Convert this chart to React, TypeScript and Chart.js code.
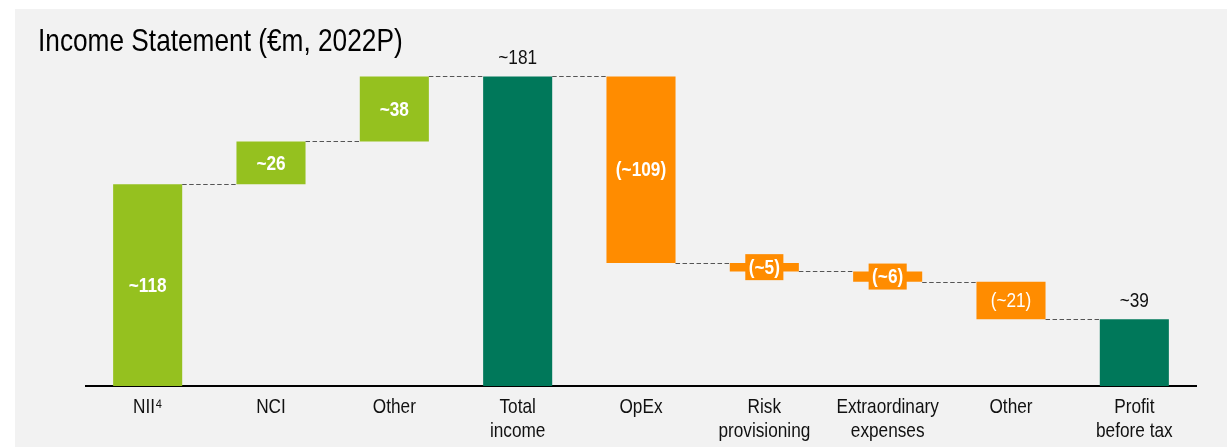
import React, { useEffect, useRef } from "react";
import { Chart, registerables } from "chart.js";

Chart.register(...registerables);

const titleText = "Income Statement (€m, 2022P)";

const categories: (string | string[])[] = [
  "NII⁴",
  "NCI",
  "Other",
  ["Total", "income"],
  "OpEx",
  ["Risk", "provisioning"],
  ["Extraordinary", "expenses"],
  "Other",
  ["Profit", "before tax"],
];

// Floating bar extents (€m)
const barStart = [0, 118, 143, 0, 181, 72, 67, 61, 0];
const barEnd = [118, 143, 181, 181, 72, 67, 61, 39, 39];

const valueLabels = ["~118", "~26", "~38", "~181", "(~109)", "(~5)", "(~6)", "(~21)", "~39"];

const barKind = ["income", "income", "income", "total", "expense", "expense", "expense", "expense", "total"];

// styling helpers (not data)
const kindColor: Record<string, string> = {
  income: "#95C11F",
  total: "#00785A",
  expense: "#FF8C00",
};
const boldLabel = [true, true, true, false, true, true, true, false, false];

const FONT = "'Liberation Sans', Arial, sans-serif";
const NARROW = 0.82; // horizontal compression to mimic a narrow face

function narrowText(
  ctx: CanvasRenderingContext2D,
  text: string,
  x: number,
  y: number,
  align: CanvasTextAlign,
  baseline: CanvasTextBaseline
) {
  ctx.save();
  ctx.translate(x, y);
  ctx.scale(NARROW, 1);
  ctx.textAlign = align;
  ctx.textBaseline = baseline;
  ctx.fillText(text, 0, 0);
  ctx.restore();
}

const waterfallPlugin = {
  id: "waterfallDecor",
  afterDatasetsDraw(chart: any) {
    const ctx: CanvasRenderingContext2D = chart.ctx;
    const meta = chart.getDatasetMeta(0);
    const yScale = chart.scales.y;
    const xScale = chart.scales.x;
    ctx.save();
    // dashed connectors
    ctx.strokeStyle = "#555555";
    ctx.lineWidth = 1;
    ctx.setLineDash([4.5, 2.5]);
    for (let i = 0; i < meta.data.length - 1; i++) {
      const a = meta.data[i];
      const b = meta.data[i + 1];
      const yy = Math.round(yScale.getPixelForValue(barEnd[i])) + 0.5;
      ctx.beginPath();
      ctx.moveTo(a.x + a.width / 2, yy);
      ctx.lineTo(b.x - b.width / 2, yy);
      ctx.stroke();
    }
    ctx.setLineDash([]);
    // value labels
    for (let i = 0; i < meta.data.length; i++) {
      const el = meta.data[i];
      const top = Math.min(el.y, el.base);
      const bottom = Math.max(el.y, el.base);
      ctx.font = `${boldLabel[i] ? "bold " : ""}21px ${FONT}`;
      const text = valueLabels[i];
      if (barKind[i] === "total") {
        ctx.fillStyle = "#111111";
        narrowText(ctx, text, el.x, top - 18, "center", "middle");
      } else {
        const cy = (top + bottom) / 2;
        if (bottom - top < 26) {
          const w = ctx.measureText(text).width * NARROW + 7;
          ctx.fillStyle = kindColor[barKind[i]];
          ctx.fillRect(el.x - w / 2, cy - 13, w, 26);
        }
        ctx.fillStyle = "#ffffff";
        narrowText(ctx, text, el.x, cy + 1, "center", "middle");
      }
    }
    // category labels under the axis, at the scale's tick positions
    ctx.font = `21px ${FONT}`;
    ctx.fillStyle = "#111111";
    const labels = chart.data.labels as (string | string[])[];
    labels.forEach((lab, i) => {
      const lines = Array.isArray(lab) ? lab : [lab];
      const x = xScale.getPixelForTick(i);
      lines.forEach((ln, j) => {
        narrowText(ctx, ln, x, xScale.top + 21 + j * 24, "center", "middle");
      });
    });
    // title
    ctx.fillStyle = "#000000";
    ctx.font = `32px ${FONT}`;
    narrowText(ctx, titleText, 38, 51, "left", "alphabetic");
    ctx.restore();
  },
};

export default function App() {
  const canvasRef = useRef<HTMLCanvasElement | null>(null);

  useEffect(() => {
    if (!canvasRef.current) return;
    const chart = new Chart(canvasRef.current, {
      type: "bar",
      data: {
        labels: categories,
        datasets: [
          {
            data: categories.map((_, i) => [barStart[i], barEnd[i]]) as any,
            backgroundColor: barKind.map((k) => kindColor[k]),
            borderWidth: 0,
            borderSkipped: false,
            barPercentage: 0.56,
            categoryPercentage: 1,
          },
        ],
      },
      options: {
        animation: false,
        responsive: false,
        maintainAspectRatio: false,
        layout: { padding: { left: 86, right: 31, top: 44, bottom: 0 } },
        plugins: {
          legend: { display: false },
          tooltip: { enabled: false },
          title: { display: false },
        },
        scales: {
          x: {
            type: "category",
            grid: { display: false, drawTicks: false },
            border: { display: true, color: "#000000", width: 2 },
            ticks: { display: false },
            afterFit: (scale: any) => {
              scale.height = 61;
            },
          },
          y: {
            display: false,
            min: 0,
            max: 200,
          },
        },
      },
      plugins: [waterfallPlugin],
    });
    return () => chart.destroy();
  }, []);

  return (
    <div
      style={{
        position: "fixed",
        left: 0,
        top: 0,
        width: 1227,
        height: 447,
        background: "#ffffff",
        overflow: "hidden",
      }}
    >
      <div
        style={{
          position: "absolute",
          left: 15,
          top: 9,
          right: 0,
          bottom: 0,
          background: "#f2f2f2",
        }}
      />
      <canvas
        ref={canvasRef}
        width={1227}
        height={447}
        style={{ position: "absolute", left: 0, top: 0, width: 1227, height: 447 }}
      />
    </div>
  );
}
